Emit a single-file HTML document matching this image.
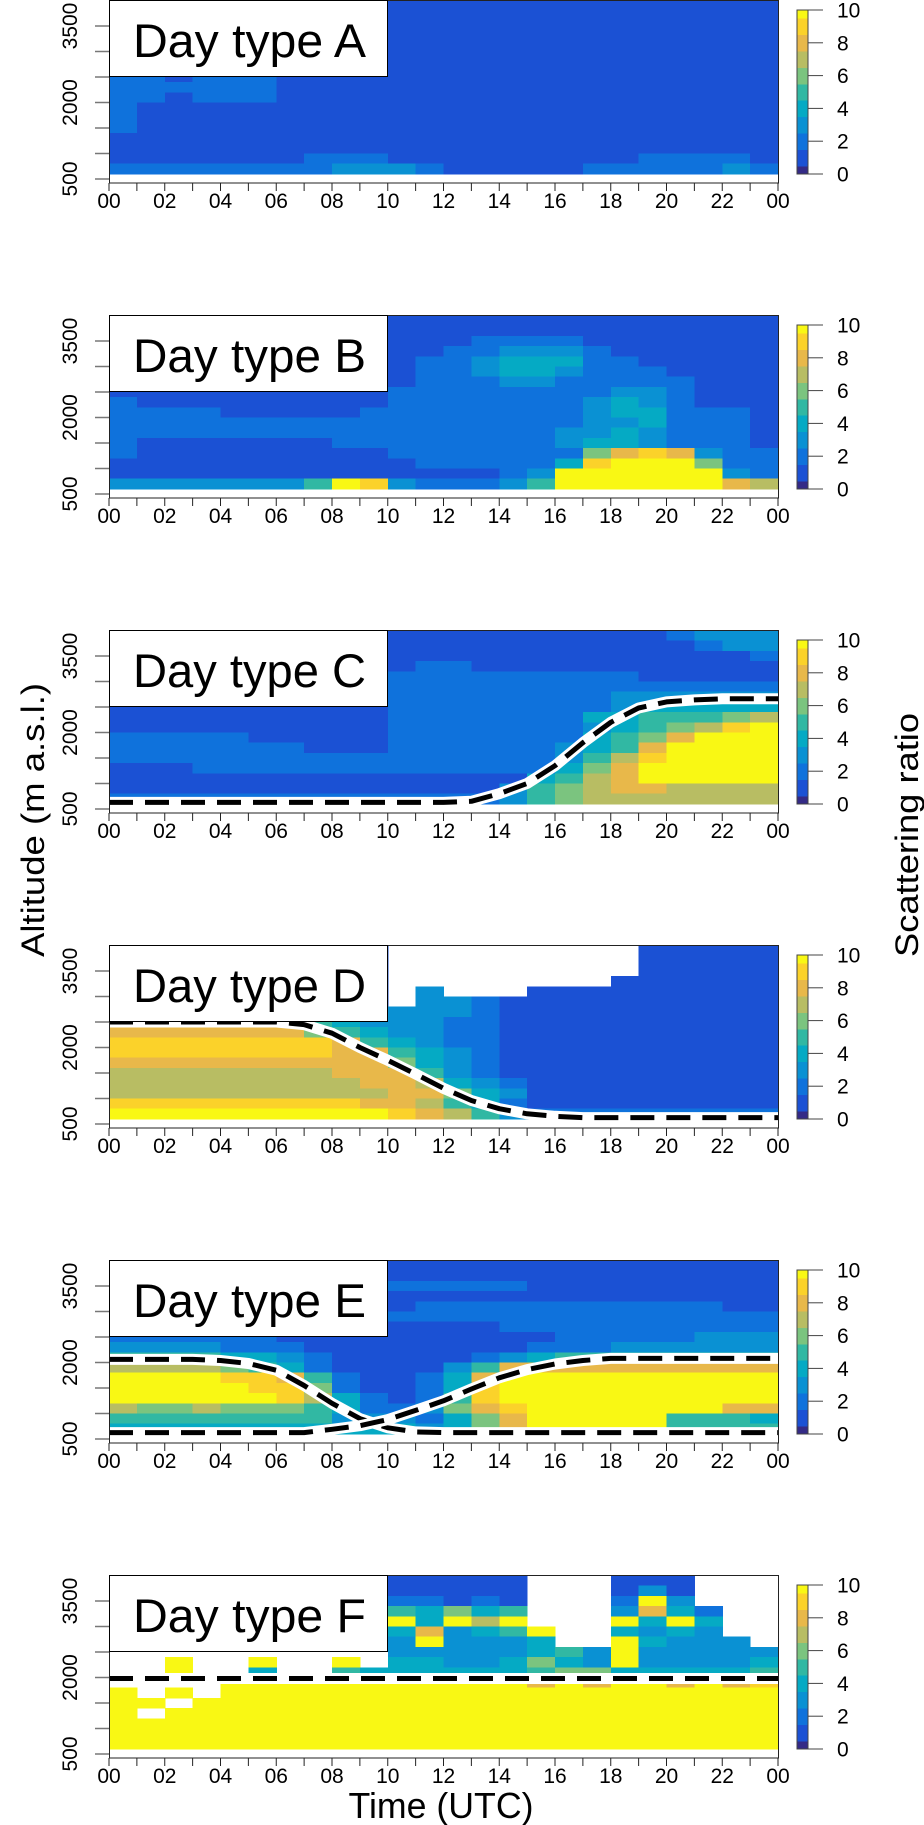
<!DOCTYPE html>
<html><head><meta charset="utf-8"><style>
html,body{margin:0;padding:0;background:#fff;}
svg{display:block;font-family:"Liberation Sans",sans-serif;}
</style></head><body>
<svg id="fig" width="924" height="1825" viewBox="0 0 924 1825" xmlns="http://www.w3.org/2000/svg">
<rect x="0" y="0" width="924" height="1825" fill="#fff"/>
<text x="0" y="0" font-size="32" text-anchor="middle" transform="translate(44,820) rotate(-90)" textLength="274" lengthAdjust="spacingAndGlyphs">Altitude (m a.s.l.)</text>
<text x="0" y="0" font-size="32" text-anchor="middle" transform="translate(918,835) rotate(-90)" textLength="244" lengthAdjust="spacingAndGlyphs">Scattering ratio</text>
<text x="441" y="1818" font-size="36" text-anchor="middle" textLength="185" lengthAdjust="spacingAndGlyphs">Time (UTC)</text>
</svg>
<script>
const panelNames = ['A','B','C','D','E','F'];
const xTickLabels = ['00','02','04','06','08','10','12','14','16','18','20','22','00'];
const yTickLabels = [500,2000,3500];
const yTickValues = [500,1000,1500,2000,2500,3000,3500];
const cbTickLabels = [0,2,4,6,8,10];
const cbBinEdges = [0,0.5,1.5,2.5,3.5,4.5,5.5,6.5,7.5,8.5,9.5,10];
const binColors = ['#342a86','#1b51d4','#0f72dc','#0a91d3','#05aac4','#31b8a3','#7bc47f','#b8bd63','#e8b84a','#fbd22a','#f9f814'];

const gridA = [
"111111111111111111111111","111111111111111111111111","111111111111111111111111",
"111111111111111111111111","111111111111111111111111","111111111111111111111111",
"111111111111111111111111","221222111111111111111111","222222111111111111111111",
"221222111111111111111111","211111111111111111111111","211111111111111111111111",
"211111111111111111111111","111111111111111111111111","111111111111111111111111",
"111111122211111111122221","222222223332111112222232"];
const gridB = [
"111111111111111111111111","111111111111111111111111","111111111111122221111111",
"111111111111223332111111","111111111112234442211111","111111111112234432221111",
"111111111112223322222111","111111111122222222332111","211111111122222223432111",
"222211111222222223442221","222222222222222223342221","222222222222222233432221",
"211111112222222234432221","211111111122222226898322","111111111112222249AAA622",
"1111111111111123AAAAAA32","33333335A9322235AAAAAA87"];
const gridC = [
"111111111111111111112333","111111111111111111111233","111111111111111111111112",
"111111111112211111111111","111111111122222222211111","111111111122222222222222",
"111111111222222222333333","111111111122222222344444","111111111122222224455567",
"11111111112222222345679A","222221111122222224568AAA","22222221112222223458AAAA",
"22222222222222223579AAAA","1112222222222222468AAAAA","1111111111111114578AAAAA",
"111111111111113567887777","222222222222223567777777"];
const gridD = [
"1111111111.........11111","1111111111.........11111","1111111111.........11111",
"1111111111........111111","1111111111.3...111111111","1111111111.3321111111111",
"111111111133321111111111","555555554333221111111111","888888865433221111111111",
"999999998543221111111111","999999998854321111111111","888888888864321111111111",
"777777778885321111111111","777777777887432111111111","777777777788643111111111",
"999999999887542111111111","AAAAAAAAAA98753222222222"];
const gridE = [
"111111111111111111111111","111111111111111111111111","111111111122222111111111",
"111111111111111111111111","111111111112222222222211","111111111122222222222222",
"111111111111112222222222","222222111111111122222333","333322211111111222333333",
"555544321111123455555555","777765421111358888888888","AAAA9985211248AAAAAAAAAA",
"AAAAA996211249AAAAAAAAAA","AAAAAA97421259AAAAAAAAAA","766766654223689AAAAAAA88",
"555555553332468AAAAA5554","444444444443468AAAAA5555"];
const gridF = [
"..........11111...111...","..........11111...131...","..........22121...2A3...",
"..........54645...3842..","..........A4A7A...A4A4..","..........48345A..4343..",
"..........3A3334..A4333.","..........33333453A33333","..A..A..A.44334643A33334",
"..A..4..5444444566444445","....AAAAAAAAAAA8A8AA8A89","A.A.AAAAAAAAAAAAAAAAAAAA",
"AA.AAAAAAAAAAAAAAAAAAAAA","A.AAAAAAAAAAAAAAAAAAAAAA","AAAAAAAAAAAAAAAAAAAAAAAA",
"AAAAAAAAAAAAAAAAAAAAAAAA","AAAAAAAAAAAAAAAAAAAAAAAA"];

const blHours = [0,1,2,3,4,5,6,7,8,9,10,11,12,13,14,15,16,17,18,19,20,21,22,23,24];
const blC = [630,630,630,630,630,630,630,630,630,630,630,630,630,650,800,1000,1350,1800,2200,2480,2600,2640,2660,2660,2660];
const blD = [2500,2500,2500,2500,2500,2500,2500,2450,2280,2000,1750,1480,1200,960,800,700,650,625,625,625,625,625,625,625,625];
const blE1 = [2060,2060,2060,2060,2040,1980,1850,1550,1200,900,720,640,625,625,625,625,625,625,625,625,625,625,625,625,625];
const blE2 = [625,625,625,625,625,625,625,625,690,760,880,1060,1250,1480,1700,1860,1970,2040,2080,2080,2080,2080,2080,2080,2080];
const blF = [1980,1980,1980,1980,1980,1980,1980,1980,1980,1980,1980,1980,1980,1980,1980,1980,1980,1980,1980,1980,1980,1980,1980,1980,1980];

const panelGrids = [gridA,gridB,gridC,gridD,gridE,gridF];
const panelLines = [[],[],[blC],[blD],[blE1,blE2],[blF]];

const NS = 'http://www.w3.org/2000/svg';
const svg = document.getElementById('fig');
const X0 = 109, X1 = 778, PANEL_STEP = 315;
function xs(h){ return X0 + h/24*(X1-X0); }
function ys(v){ return 179 - (v-500)*0.051; }
function cby(v){ return 174 - v*16.4; }
function mk(tag, attrs, parent){
  const e = document.createElementNS(NS, tag);
  for (const k in attrs) e.setAttribute(k, attrs[k]);
  parent.appendChild(e);
  return e;
}
function valOf(c){ if (c === '.') return null; if (c === 'A') return 10; return parseInt(c,10); }

panelNames.forEach((name, p) => {
  const g = mk('g', {transform:'translate(0,' + (p*PANEL_STEP) + ')'}, svg);
  
  
  const grid = panelGrids[p];
  const hm = mk('g', {'shape-rendering':'crispEdges'}, g);
  
  
  grid.forEach((row, i) => {
    const top = 4000 - 200*i, bot = top - 200;
    for (let j = 0; j < 24; j++) {
      const v = valOf(row[j] || '.');
      if (v === null) continue;
      const c = mk('rect', {x: xs(j), y: ys(top), width: xs(j+1)-xs(j)+0.6, height: ys(bot)-ys(top)+0.6, fill: binColors[v]}, hm);
      
      
    }
  });
  panelLines[p].forEach((arr, li) => {
    const pts = blHours.map((h,k) => xs(h).toFixed(1) + ',' + ys(arr[k]).toFixed(1)).join(' ');
    const w = mk('polyline', {points: pts, fill:'none', stroke:'#fff', 'stroke-width':11, 'stroke-linejoin':'round', 'stroke-linecap':'round'}, g);
    
    
    const b = mk('polyline', {points: pts, fill:'none', stroke:'#000', 'stroke-width':5, 'stroke-dasharray':'24 12', 'stroke-linejoin':'round'}, g);
    
    
  });
  const fr = mk('rect', {x: X0+0.5, y: 0.5, width: X1-X0, height: 182.5, fill:'none', stroke:'#222', 'stroke-width':1}, g);
  
  
  const lb = mk('rect', {x: X0+0.5, y: 0.5, width: 278, height: 76, fill:'#fff', stroke:'#000', 'stroke-width':1}, g);
  
  
  const lt = mk('text', {x: 133, y: 57, 'font-size': 47, textLength: 233, lengthAdjust:'spacingAndGlyphs'}, g);
  lt.textContent = 'Day type ' + name;
  
  
  for (let h = 0; h <= 24; h++) {
    const t = mk('line', {x1: xs(h), x2: xs(h), y1: 183, y2: 191, stroke:'#222', 'stroke-width':1}, g);
    
    
  }
  xTickLabels.forEach((lab, k) => {
    const t = mk('text', {x: xs(k*2), y: 208, 'font-size': 21, 'text-anchor':'middle'}, g);
    t.textContent = lab;
    
    
  });
  yTickValues.forEach(v => {
    const t = mk('line', {x1: 95, x2: X0, y1: ys(v), y2: ys(v), stroke:'#777', 'stroke-width':1.5}, g);
    
    
  });
  yTickLabels.forEach(v => {
    const t = mk('text', {x: 0, y: 0, 'font-size': 21, 'text-anchor':'middle', transform: 'translate(77,' + ys(v) + ') rotate(-90)'}, g);
    t.textContent = String(v);
    
    
  });
  const cb = mk('g', {'shape-rendering':'crispEdges'}, g);
  
  
  for (let k = 0; k < binColors.length; k++) {
    const r = mk('rect', {x: 797, y: cby(cbBinEdges[k+1]), width: 11, height: cby(cbBinEdges[k]) - cby(cbBinEdges[k+1]) + 0.5, fill: binColors[k]}, cb);
    
    
  }
  const cbf = mk('rect', {x: 797, y: cby(10), width: 11, height: cby(0)-cby(10), fill:'none', stroke:'#444', 'stroke-width':1}, cb);
  
  
  cbTickLabels.forEach(v => {
    const t = mk('line', {x1: 808, x2: 823, y1: cby(v), y2: cby(v), stroke:'#444', 'stroke-width':1}, g);
    
    
    const l = mk('text', {x: 837, y: cby(v) + 7.5, 'font-size': 21}, g);
    l.textContent = String(v);
    
    
  });
});
</script>
</body></html>
